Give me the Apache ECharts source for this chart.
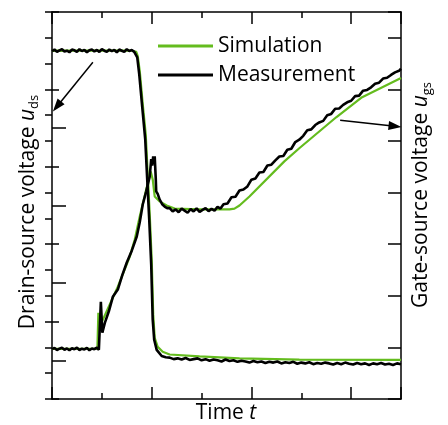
<!DOCTYPE html>
<html>
<head>
<meta charset="utf-8">
<script src="https://cdn.jsdelivr.net/npm/echarts@6/dist/echarts.min.js"></script>
<style>
html,body{margin:0;padding:0;background:#fff;}
#c{width:448px;height:425px;}
</style>
</head>
<body>
<div id="c"></div>
<script>
// time axis: 0..7 (arbitrary units), drain-source voltage: 0..10, gate-source voltage: 0..15
const seriesNames = ['Simulation', 'Measurement'];

const simDrain = [
  [0,9.00],[1.60,9.00],[1.69,8.97],[1.72,8.86],[1.76,8.47],[1.82,7.62],[1.88,6.84],[1.92,5.80],
  [1.96,4.77],[2.00,3.60],[2.03,2.18],[2.06,1.58],[2.12,1.35],[2.22,1.22],[2.36,1.15],[2.96,1.10],
  [3.76,1.05],[4.96,1.02],[7.00,1.01]
];

const measDrain = [
  [0,8.99],[0.05,9.03],[0.10,8.97],[0.15,9.01],[0.20,9.04],[0.25,8.98],[0.30,9.00],[0.35,8.96],
  [0.40,9.03],[0.45,9.01],[0.50,8.97],[0.55,9.04],[0.60,8.99],[0.65,9.02],[0.70,8.96],[0.75,9.01],
  [0.80,9.03],[0.85,8.98],[0.90,9.02],[0.95,8.97],[1.00,9.04],[1.05,9.00],[1.10,8.97],[1.15,9.03],
  [1.20,8.99],[1.25,9.02],[1.30,8.96],[1.35,9.03],[1.40,9.00],[1.45,8.97],[1.50,9.04],[1.55,8.99],
  [1.60,9.02],[1.65,8.97],
  [1.68,8.95],[1.71,8.83],[1.75,8.39],[1.81,7.54],[1.87,6.71],[1.91,5.67],[1.95,4.64],[1.99,3.47],
  [2.02,2.05],[2.05,1.53],[2.10,1.27],[2.20,1.11],[2.28,1.08],
  [2.36,1.07],[2.44,1.03],[2.52,1.05],[2.60,1.02],[2.68,1.06],[2.76,1.01],[2.84,1.03],[2.92,1.05],
  [3.00,1.00],[3.08,1.03],[3.16,0.99],[3.24,1.02],[3.32,1.00],[3.40,0.97],[3.48,1.02],[3.56,0.98],
  [3.64,1.00],[3.72,0.96],[3.80,0.99],[3.88,0.97],[3.96,0.94],[4.04,0.98],[4.12,0.95],[4.20,0.97],
  [4.28,0.93],[4.36,0.96],[4.44,0.94],[4.52,0.97],[4.60,0.92],[4.68,0.95],[4.76,0.93],[4.84,0.96],
  [4.92,0.91],[5.00,0.94],[5.08,0.92],[5.16,0.95],[5.24,0.90],[5.32,0.93],[5.40,0.91],[5.48,0.94],
  [5.56,0.92],[5.64,0.89],[5.72,0.93],[5.80,0.90],[5.88,0.94],[5.96,0.91],[6.04,0.89],[6.12,0.93],
  [6.20,0.90],[6.28,0.92],[6.36,0.88],[6.44,0.92],[6.52,0.90],[6.60,0.93],[6.68,0.89],[6.76,0.91],
  [6.84,0.88],[6.92,0.92],[7.00,0.90]
];

const simGate = [
  [0,1.94],[0.91,1.94],[0.93,3.34],[0.96,2.84],[1.02,3.07],[1.32,4.35],[1.56,5.52],[1.66,6.18],
  [1.76,7.07],[1.89,8.12],[1.98,8.82],[2.02,8.51],[2.06,7.85],[2.16,7.66],[2.30,7.50],[2.46,7.38],
  [2.96,7.35],[3.56,7.35],[3.66,7.38],[3.76,7.50],[3.96,7.85],[4.66,9.21],[4.96,9.72],[5.70,10.92],
  [6.22,11.70],[7.00,12.44]
];

const measGate = [
  [0,1.93],[0.05,1.98],[0.10,1.90],[0.15,1.95],[0.20,1.99],[0.25,1.91],[0.30,1.96],[0.35,1.89],
  [0.40,1.97],[0.45,1.93],[0.50,1.99],[0.55,1.90],[0.60,1.95],[0.65,1.92],[0.70,1.98],[0.75,1.89],
  [0.80,1.96],[0.85,1.93],[0.90,1.99],[0.94,1.91],[0.96,1.92],
  [0.98,3.77],[1.01,2.57],[1.06,2.95],[1.14,3.40],[1.22,3.96],[1.32,4.24],[1.41,4.80],[1.50,5.29],
  [1.60,5.75],[1.70,6.30],[1.76,6.85],[1.82,7.54],[1.89,8.05],[1.96,8.63],[1.99,9.30],[2.01,9.05],
  [2.03,9.40],[2.05,9.15],[2.06,9.41],[2.08,8.60],[2.09,8.05],[2.12,7.95],[2.16,7.73],[2.21,7.55],
  [2.26,7.46],[2.31,7.40],
  [2.36,7.40],[2.42,7.27],[2.48,7.35],[2.54,7.24],[2.60,7.38],[2.66,7.30],[2.72,7.22],[2.78,7.36],
  [2.84,7.27],[2.90,7.39],[2.96,7.25],[3.02,7.33],[3.08,7.40],[3.14,7.28],[3.20,7.37],[3.26,7.30],
  [3.32,7.45],[3.38,7.38],
  [3.44,7.55],[3.52,7.58],[3.60,7.82],[3.68,7.84],[3.76,8.08],[3.84,8.12],[3.92,8.24],[4.00,8.50],
  [4.08,8.55],[4.16,8.78],[4.24,8.80],[4.32,9.05],[4.40,9.08],[4.48,9.25],[4.56,9.40],[4.64,9.42],
  [4.72,9.66],[4.80,9.70],[4.88,9.96],[4.96,10.05],[5.04,10.20],[5.12,10.42],[5.20,10.45],[5.28,10.62],
  [5.36,10.72],[5.44,10.78],[5.52,11.00],[5.60,11.05],[5.68,11.25],[5.76,11.26],[5.84,11.40],[5.92,11.50],
  [6.00,11.56],[6.08,11.74],[6.16,11.76],[6.24,11.95],[6.32,11.98],[6.40,12.08],[6.48,12.22],[6.56,12.26],
  [6.64,12.42],[6.72,12.45],[6.80,12.56],[6.88,12.66],[6.96,12.72],[7.00,12.80]
];

// annotation arrows (data coordinates)
const drainArrow = [[0.82, 8.70], [0.10, 7.56]];
const gateArrow = [[5.78, 10.80], [6.88, 10.57]];

const GREEN = '#64bc1e';
const FONT = '"Open Sans", "DejaVu Sans", sans-serif';
const tickStyle = {color: '#000', width: 1.5};

function xAx(pos, interval, len, showLine) {
  return {
    type: 'value', position: pos, min: 0, max: 7, interval: interval,
    axisLine: {show: showLine, onZero: false, lineStyle: {color: '#000', width: 1.5}},
    axisTick: {show: true, inside: true, length: len, lineStyle: tickStyle},
    axisLabel: {show: false}, splitLine: {show: false}
  };
}

const chart = echarts.init(document.getElementById('c'), null, {renderer: 'canvas'});
chart.setOption({
  animation: false,
  backgroundColor: '#fff',
  grid: {left: 52, right: 47, top: 12, bottom: 26, containLabel: false},
  legend: {
    data: seriesNames,
    orient: 'vertical', left: 153, top: 30,
    itemWidth: 55, itemHeight: 14, itemGap: 7,
    icon: 'path://M0,5.5 L55,5.5 L55,8.5 L0,8.5 Z',
    textStyle: {fontFamily: FONT, fontSize: 21, color: '#000', lineHeight: 22},
    selectedMode: false
  },
  xAxis: [
    xAx('bottom', 2, 12, true),
    xAx('bottom', 1, 6, false),
    xAx('top', 2, 12, true),
    xAx('top', 1, 6, false)
  ],
  yAxis: [
    {
      type: 'value', position: 'left', min: 0, max: 10, interval: 2,
      axisLine: {show: true, onZero: false, lineStyle: {color: '#000', width: 1.5}},
      axisTick: {show: true, inside: true, length: 7, lineStyle: tickStyle},
      minorTick: {show: true, splitNumber: 2, length: 14, lineStyle: tickStyle},
      axisLabel: {show: false}, splitLine: {show: false}, minorSplitLine: {show: false}
    },
    {
      type: 'value', position: 'right', min: 0, max: 15, interval: 2,
      axisLine: {show: true, onZero: false, lineStyle: {color: '#000', width: 1.5}},
      axisTick: {show: true, inside: true, length: 13, lineStyle: tickStyle},
      axisLabel: {show: false}, splitLine: {show: false}
    },
    {
      type: 'value', position: 'right', min: 0, max: 15, interval: 1,
      axisLine: {show: false},
      axisTick: {show: true, inside: true, length: 7, lineStyle: tickStyle},
      axisLabel: {show: false}, splitLine: {show: false}
    }
  ],
  series: [
    {
      name: 'Simulation', type: 'line', xAxisIndex: 0, yAxisIndex: 0, data: simDrain,
      symbol: 'none', color: GREEN, lineStyle: {color: GREEN, width: 2.2}, z: 2
    },
    {
      name: 'Simulation', type: 'line', xAxisIndex: 0, yAxisIndex: 1, data: simGate,
      symbol: 'none', color: GREEN, lineStyle: {color: GREEN, width: 2.2}, z: 2
    },
    {
      name: 'Measurement', type: 'line', xAxisIndex: 0, yAxisIndex: 0, data: measDrain,
      symbol: 'none', color: '#000', lineStyle: {color: '#000', width: 2.6}, z: 3,
      markLine: {
        silent: true, symbol: ['none', 'triangle'], symbolSize: [9, 13],
        label: {show: false}, lineStyle: {color: '#000', width: 1.5, type: 'solid'},
        data: [[{coord: drainArrow[0]}, {coord: drainArrow[1]}]]
      }
    },
    {
      name: 'Measurement', type: 'line', xAxisIndex: 0, yAxisIndex: 1, data: measGate,
      symbol: 'none', color: '#000', lineStyle: {color: '#000', width: 2.6}, z: 3,
      markLine: {
        silent: true, symbol: ['none', 'triangle'], symbolSize: [9, 13],
        label: {show: false}, lineStyle: {color: '#000', width: 1.5, type: 'solid'},
        data: [[{coord: gateArrow[0]}, {coord: gateArrow[1]}]]
      }
    }
  ],
  graphic: [
    {
      type: 'text', x: 28, y: 212, rotation: Math.PI / 2,
      style: {
        text: '{a|Drain-source voltage }{u|u}{s|ds}',
        align: 'center', verticalAlign: 'middle',
        rich: {
          a: {fontFamily: FONT, fontSize: 21, fill: '#000', lineHeight: 26},
          u: {fontFamily: FONT, fontSize: 21, fontStyle: 'italic', fill: '#000', lineHeight: 26},
          s: {fontFamily: FONT, fontSize: 13, fill: '#000', lineHeight: 14, verticalAlign: 'bottom'}
        }
      }
    },
    {
      type: 'text', x: 421, y: 195, rotation: Math.PI / 2,
      style: {
        text: '{a|Gate-source voltage }{u|u}{s|gs}',
        align: 'center', verticalAlign: 'middle',
        rich: {
          a: {fontFamily: FONT, fontSize: 21, fill: '#000', lineHeight: 26},
          u: {fontFamily: FONT, fontSize: 21, fontStyle: 'italic', fill: '#000', lineHeight: 26},
          s: {fontFamily: FONT, fontSize: 13, fill: '#000', lineHeight: 14, verticalAlign: 'bottom'}
        }
      }
    },
    {
      type: 'text', x: 226, y: 413,
      style: {
        text: '{a|Time }{u|t}',
        align: 'center', verticalAlign: 'middle',
        rich: {
          a: {fontFamily: FONT, fontSize: 21, fill: '#000', lineHeight: 26},
          u: {fontFamily: FONT, fontSize: 21, fontStyle: 'italic', fill: '#000', lineHeight: 26}
        }
      }
    }
  ]
});
</script>
</body>
</html>
